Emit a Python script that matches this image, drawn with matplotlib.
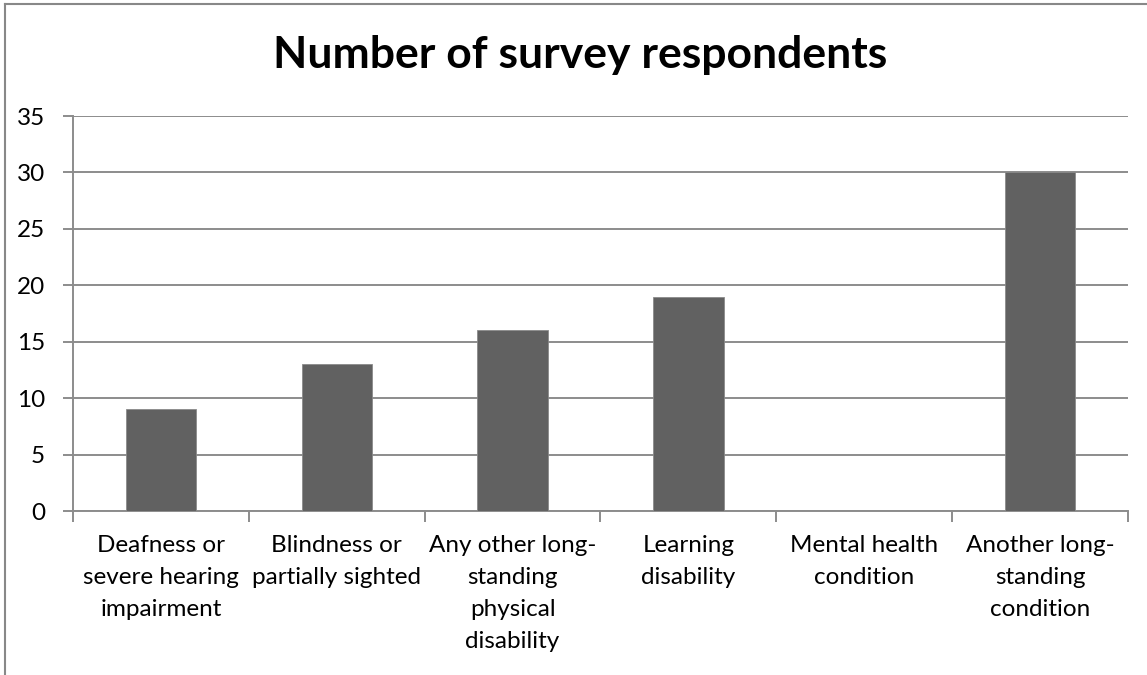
import matplotlib.pyplot as plt
from matplotlib.lines import Line2D

categories = ["Deafness or\nsevere hearing\nimpairment",
              "Blindness or\npartially sighted",
              "Any other long-\nstanding\nphysical\ndisability",
              "Learning\ndisability",
              "Mental health\ncondition",
              "Another long-\nstanding\ncondition"]
respondents = [9, 13, 16, 19, 0, 30]
y_ticks = [0, 5, 10, 15, 20, 25, 30, 35]

plt.rcParams['font.family'] = ['Lato', 'DejaVu Sans']
grid_col = '#8c8c8c'

fig = plt.figure(figsize=(11.47, 6.75), dpi=100)
ax = fig.add_axes([73 / 1147, 1 - 511 / 675, (1128 - 73) / 1147, (511 - 116) / 675])

x = list(range(len(categories)))
ax.bar(x, respondents, width=0.4, color='#616161', edgecolor='#8a8a8a',
       linewidth=0.6, zorder=3)

ax.set_xlim(-0.5, len(categories) - 0.5)
ax.set_ylim(0, 35)
ax.set_yticks(y_ticks)
ax.yaxis.grid(True, color=grid_col, linewidth=1.4, zorder=0)

# category boundaries as major ticks, labels on minor ticks
ax.set_xticks([i - 0.5 for i in range(len(categories) + 1)])
ax.set_xticklabels([])
ax.set_xticks(x, minor=True)
ax.set_xticklabels(categories, minor=True, fontsize=17.5, linespacing=1.65)
ax.tick_params(axis='x', which='major', length=8, width=1.4, color=grid_col)
ax.tick_params(axis='x', which='minor', length=0, pad=17)
ax.tick_params(axis='y', length=7, width=1.4, color=grid_col, labelsize=17.5, pad=13)

for s in ['top', 'right']:
    ax.spines[s].set_visible(False)
for s in ['left', 'bottom']:
    ax.spines[s].set_color(grid_col)
    ax.spines[s].set_linewidth(1.4)

fig.text(0.5057, 1 - 55 / 675, "Number of survey respondents", ha='center',
         va='center', fontsize=32, fontweight='bold')

# chart border (left and top edges visible)
fig.add_artist(Line2D([5 / 1147, 5 / 1147], [0, 1 - 4 / 675], color='#888888',
                      linewidth=1.5, transform=fig.transFigure))
fig.add_artist(Line2D([5 / 1147, 1], [1 - 4 / 675, 1 - 4 / 675], color='#888888',
                      linewidth=1.5, transform=fig.transFigure))

fig.savefig('out.png', dpi=100)
